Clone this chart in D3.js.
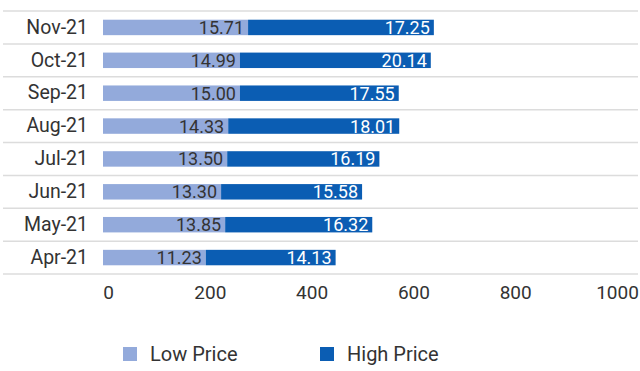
<!DOCTYPE html>
<html>
<head>
<meta charset="utf-8">
<script src="https://cdn.jsdelivr.net/npm/d3@7"></script>
<style>
  html, body { margin: 0; padding: 0; background: #fff; }
  svg { display: block; font-family: Roboto, "Noto Sans", sans-serif; }
</style>
</head>
<body>
<svg id="chart" width="640" height="371"></svg>
<script>
// Data (top to bottom as shown)
const categories = ["Nov-21", "Oct-21", "Sep-21", "Aug-21", "Jul-21", "Jun-21", "May-21", "Apr-21"];
// bar lengths read against the 0–1000 axis
const lowValues  = [285, 269, 269, 246, 244, 232, 240, 202];
const highValues = [365, 375, 312, 336, 299, 277, 289, 255];
// printed labels
const lowLabels  = ["15.71", "14.99", "15.00", "14.33", "13.50", "13.30", "13.85", "11.23"];
const highLabels = ["17.25", "20.14", "17.55", "18.01", "16.19", "15.58", "16.32", "14.13"];
const xTicks = [0, 200, 400, 600, 800, 1000];
const seriesNames = ["Low Price", "High Price"];
const colors = ["#93aadb", "#0b5db3"];

const svg = d3.select("#chart");

const x = d3.scaleLinear().domain([0, 1000]).range([103, 612]);
const y = d3.scaleBand().domain(categories).range([11, 274])
  .paddingInner(0.53).paddingOuter(0.265);
const step = y.step();

// Grid lines between rows
const gridYs = d3.range(categories.length + 1).map(i => 11 + i * step);
svg.append("g").selectAll("line").data(gridYs).join("line")
  .attr("x1", 3).attr("x2", 638)
  .attr("y1", d => d).attr("y2", d => d)
  .attr("stroke", "#dcdcdc").attr("stroke-width", 1.5);

const rows = categories.map((c, i) => ({
  cat: c, low: lowValues[i], high: highValues[i], lowLabel: lowLabels[i], highLabel: highLabels[i]
}));

// Low bars
svg.append("g").selectAll("rect").data(rows).join("rect")
  .attr("x", x(0))
  .attr("y", d => y(d.cat))
  .attr("width", d => x(d.low) - x(0))
  .attr("height", y.bandwidth())
  .attr("fill", colors[0]);

// High bars
svg.append("g").selectAll("rect").data(rows).join("rect")
  .attr("x", d => x(d.low))
  .attr("y", d => y(d.cat))
  .attr("width", d => x(d.low + d.high) - x(d.low))
  .attr("height", y.bandwidth())
  .attr("fill", colors[1]);

// Bar labels
svg.append("g").selectAll("text").data(rows).join("text")
  .attr("x", d => x(d.low) - 4)
  .attr("y", d => y(d.cat) + y.bandwidth() / 2)
  .attr("dy", "0.36em")
  .attr("text-anchor", "end")
  .attr("font-size", 18)
  .attr("fill", "#333")
  .text(d => d.lowLabel);

svg.append("g").selectAll("text").data(rows).join("text")
  .attr("x", d => x(d.low + d.high) - 4)
  .attr("y", d => y(d.cat) + y.bandwidth() / 2)
  .attr("dy", "0.36em")
  .attr("text-anchor", "end")
  .attr("font-size", 18)
  .attr("fill", "#fff")
  .text(d => d.highLabel);

// Y axis (category labels)
const yAxis = d3.axisLeft(y).tickSize(0).tickPadding(0);
const gy = svg.append("g").attr("transform", "translate(88,0)").call(yAxis);
gy.select(".domain").remove();
gy.selectAll("text").attr("font-size", 19.5).attr("fill", "#333")
  .attr("font-family", "Roboto, sans-serif");

// X axis (tick labels)
const xAxis = d3.axisBottom(x).tickValues(xTicks).tickSize(0).tickPadding(0).tickFormat(d3.format("d"));
const gx = svg.append("g").attr("transform", "translate(5,285)").call(xAxis);
gx.select(".domain").remove();
gx.selectAll("text").attr("font-size", 19).attr("fill", "#333")
  .attr("font-family", "Roboto, sans-serif").attr("dy", "0.72em");

// Legend
const legendX = [123, 320];
const lg = svg.append("g").selectAll("g").data(seriesNames).join("g")
  .attr("transform", (d, i) => `translate(${legendX[i]},347)`);
lg.append("rect").attr("width", 14).attr("height", 14).attr("fill", (d, i) => colors[i]);
lg.append("text").attr("x", 27).attr("y", 14).attr("font-size", 20)
  .attr("fill", "#333").text(d => d);
</script>
</body>
</html>
